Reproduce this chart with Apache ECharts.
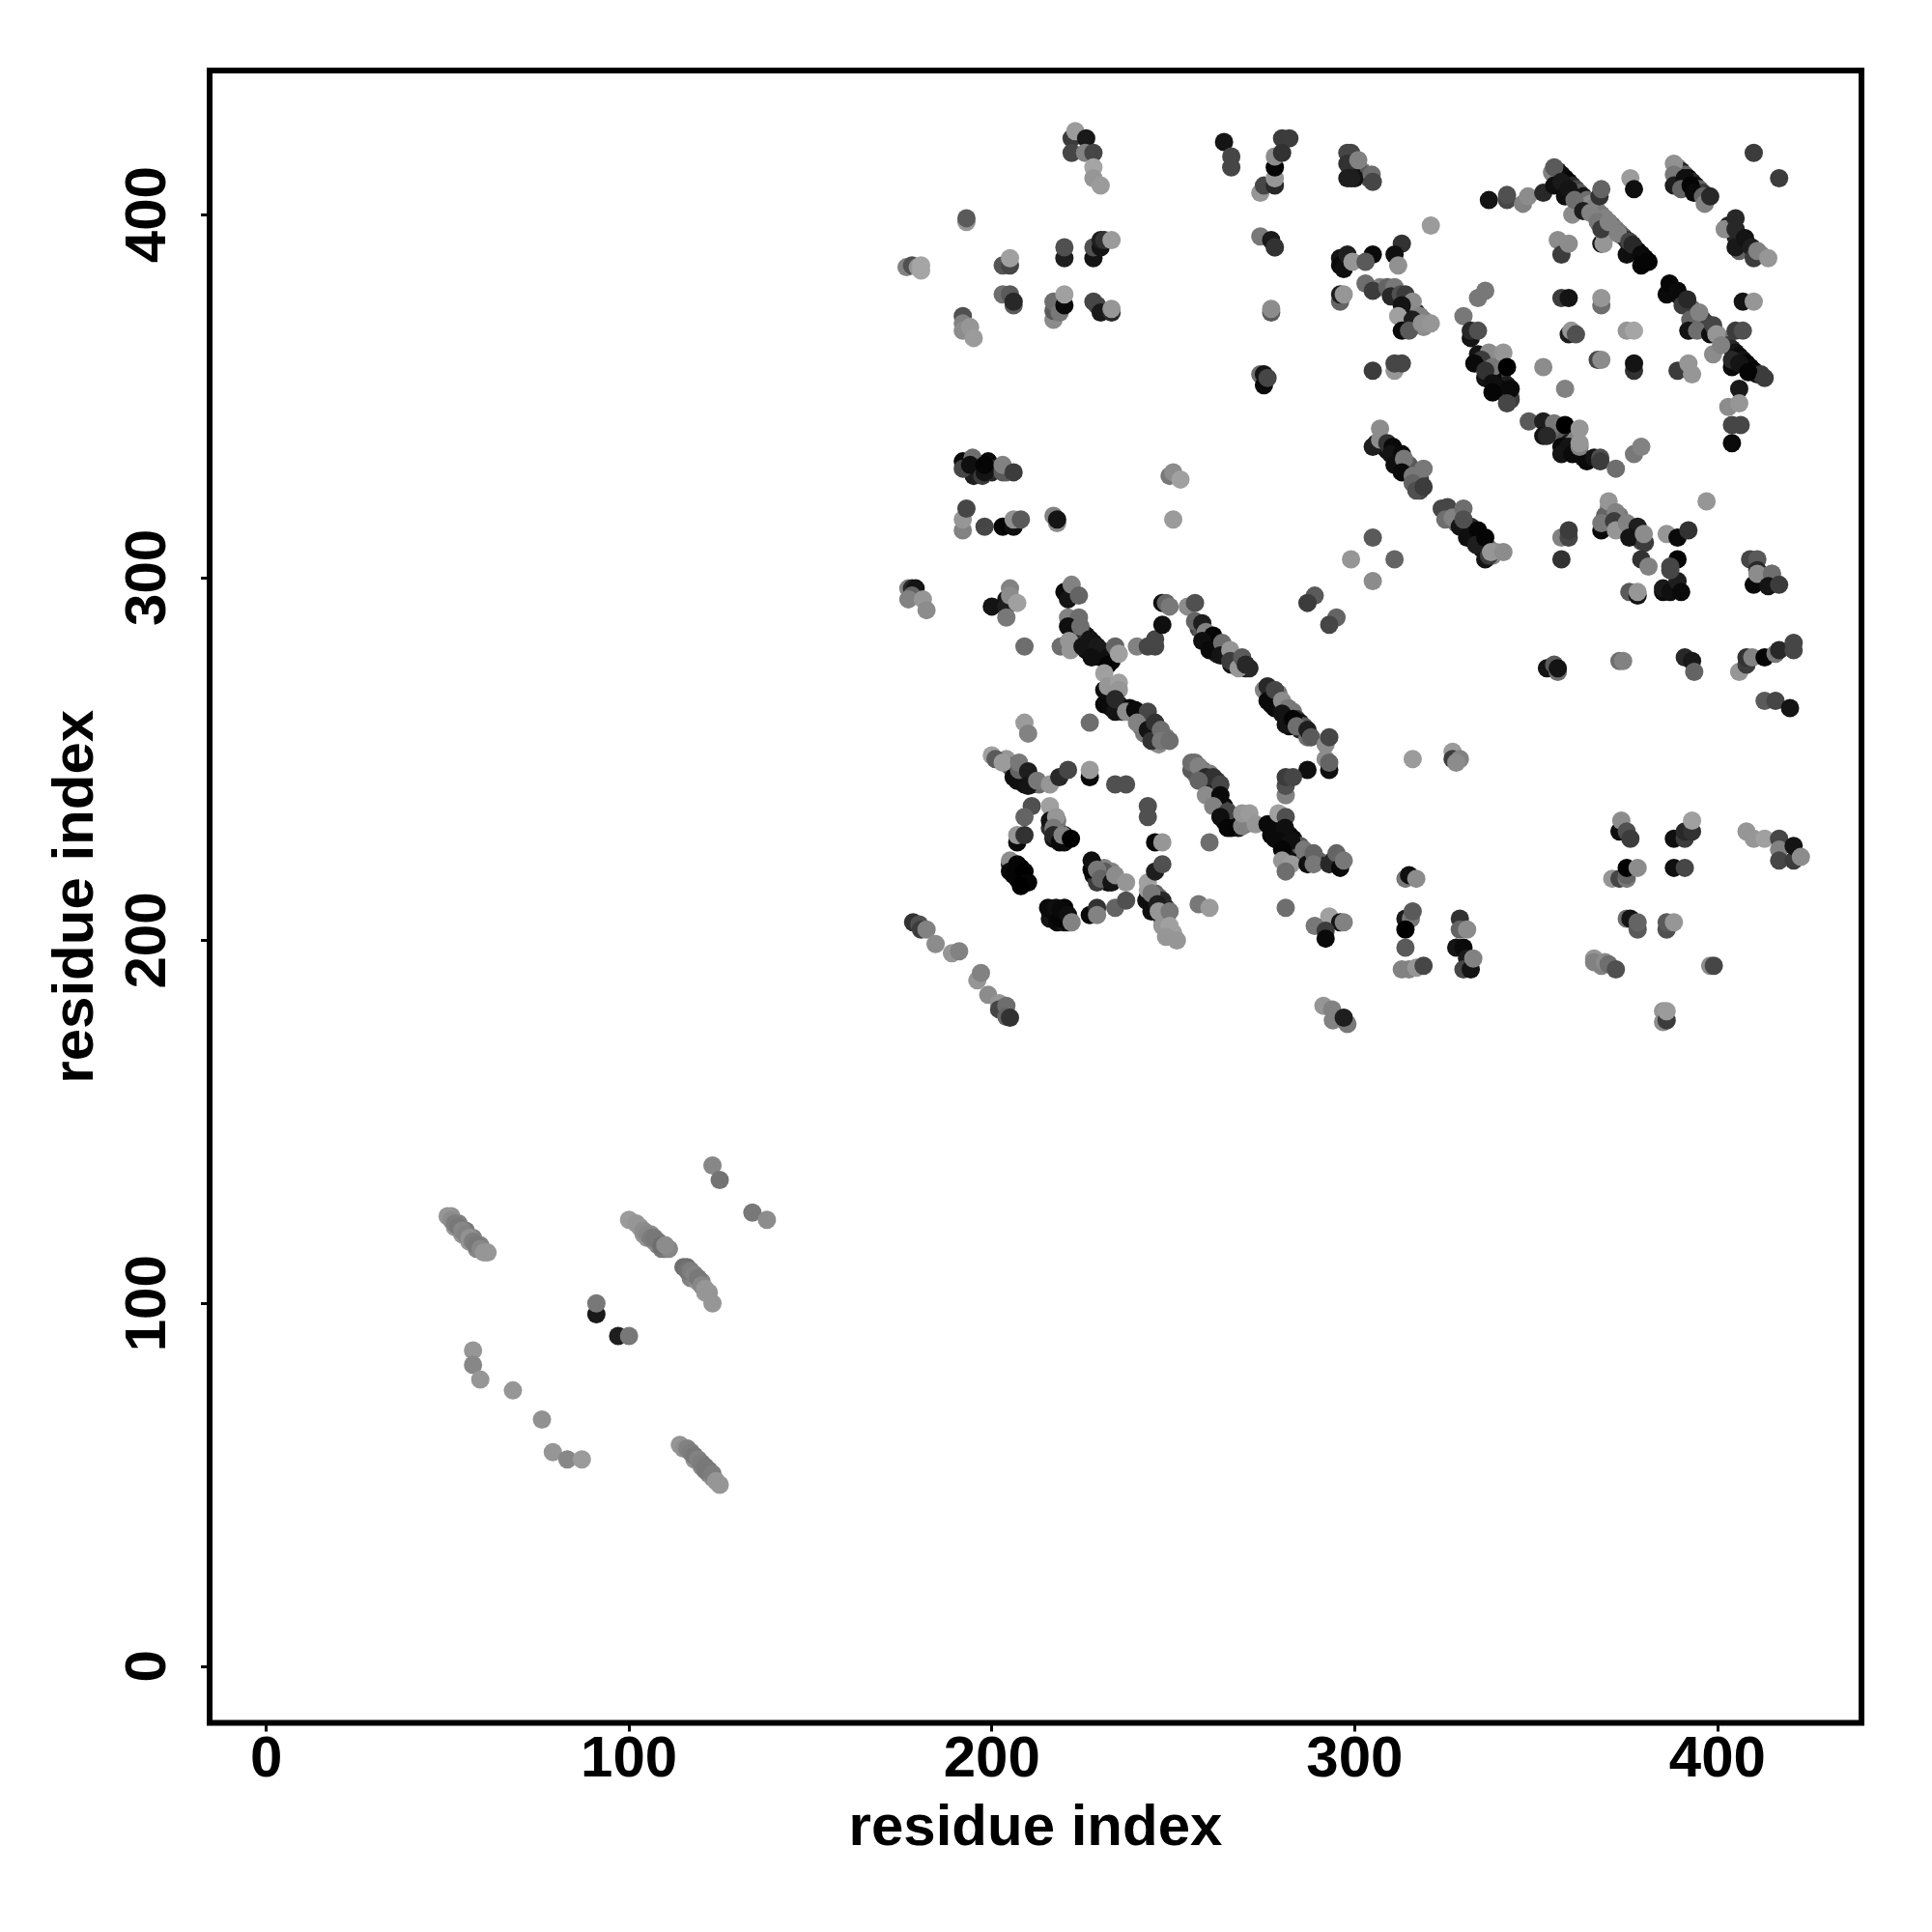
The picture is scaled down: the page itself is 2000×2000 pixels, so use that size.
<!DOCTYPE html>
<html><head><meta charset="utf-8">
<style>html,body{margin:0;padding:0;background:#fff}#c{width:2000px;height:2000px}</style>
<script src="https://cdn.jsdelivr.net/npm/echarts@6/dist/echarts.min.js"></script></head>
<body><div id="c"></div>
<script>
// [residue index x, residue index y, grey shade]
const tickValues=[0,100,200,300,400];
const lowBands=[[51,124,145],[53,122,130],[55,120,120],[57,118,130],[59,116,130],[52,121,150],[54,119,150],[56,117,150],[58,115,135],
[104,119,150],[106,119,145],[108,116,120],[110,115,110],[105,118,150],[107,117,140],[109,115,120],[111,115,135],
[116,110,110],[118,107,125],[120,106,135],[117,107,130],[119,106,145],[121,103,155],
[116,60,150],[118,57,150],[120,55,140],[122,53,130],[117,59,140],[119,57,130],[121,54,120],[123,52,140]];
const upperBands=[[356,412,30],[357,411,15],[358,410,10],[359,409,5],[360,408,40],[361,407,70],[362,406,90],[363,405,20],[364,404,110],[365,403,140],[366,402,130],[367,401,140],[368,400,120],[369,399,130],[370,398,140],[371,397,100],[372,396,130],[373,395,120],[374,394,90],[375,393,40],[376,392,30],[377,391,15],[378,390,10],[379,389,5],[380,388,5],[381,387,0],
[389,413,130],[390,412,30],[391,411,100],[392,410,5],[393,409,40],[394,408,15],[395,407,100],[396,406,60],[397,405,40],[390,410,5],
[387,380,10],[388,379,5],[389,378,10],[390,377,30],[391,376,50],[392,375,40],[393,374,110],[394,373,130],[395,372,120],[396,371,70],[397,370,60],[398,369,70],[399,368,130],[400,367,140],[401,366,150],[402,365,120],[403,364,60],[404,363,40],[405,362,20],[406,361,10],[407,360,20],[408,359,5],[409,358,10],[410,357,5],[411,356,20],[412,356,60],
[403,397,40],[404,397,30],[405,394,20],[406,393,30],[407,392,20],[408,391,40],[409,390,110],[410,389,120],[411,389,130],[412,389,140],[406,390,100],
[334,360,10],[335,359,20],[336,358,10],[337,359,130],[338,356,120],[339,356,110],[340,355,20],[341,354,60],[342,353,30],[336,355,20],[338,355,10],[343,350,140],[340,352,10],[341,351,30],[342,350,120],[343,349,60],[339,352,15],
[354,341,100],[356,340,120],[357,339,110],[358,338,90],[359,337,20],[360,337,100],[358,336,20],[359,335,10],[361,335,20],[361,338,130],[362,334,10],[363,333,30],[364,332,10],
[306,337,30],[308,336,10],[309,335,15],[310,335,100],[311,333,5],[312,333,10],[312,331,20],[314,331,10],[314,330,15],[315,329,20],[316,327,130],[317,328,90],[317,326,80],[318,326,100],[318,327,60],[318,324,70],
[326,318,80],[327,317,110],[328,315,110],[329,316,70],[330,315,30],[331,313,20],[332,312,10],[332,314,40],[333,312,5],[334,311,10],[335,310,5],[335,308,15],[336,309,40],[337,308,120],[338,306,130],[339,307,140],
[307,380,130],[313,377,20],[314,376,50],[315,375,110],[316,374,120],[317,373,40],[318,371,10],[317,370,100],[319,371,120],[319,369,140],[314,371,100],[313,372,10],
[299,415,40],[300,414,90],[300,412,40],[301,411,60],[301,413,150],[302,412,130],[303,411,90],[304,410,80],[299,412,20],[300,410,20],
[370,319,140],[371,318,60],[372,316,40],[373,317,120],[374,314,70],[376,313,130],[377,312,40],[378,311,20],[376,312,10],[379,310,70],[370,315,20],[369,317,100],
[193,330,20],[195,331,60],[196,329,15],[196,331,100],[197,331,15],[199,330,10],[199,332,10],[200,329,40],[201,330,50],[204,329,100],[195,328,30]];
const centerBands=[[224,287,60],[225,285,80],[226,284,20],[226,282,10],[227,281,10],[228,282,15],[228,280,5],[229,279,20],[230,280,30],[230,278,10],[231,279,30],[233,277,5],[233,279,100],[224,283,20],[225,284,50],[226,280,10],
[257,286,70],[258,285,90],[259,283,20],[260,283,10],[261,282,5],[261,280,15],[262,281,20],[262,279,40],[263,280,30],[264,281,130],[264,279,10],[266,278,100],[267,276,60],[266,276,20],[267,278,120],[268,277,60],[269,276,80],[270,275,30],[271,275,40],
[277,268,60],[277,265,20],[278,267,30],[278,264,10],[279,265,15],[279,268,120],[280,264,15],[281,263,10],[282,262,15],[282,259,10],[283,263,120],[284,261,60],[285,260,20],[285,258,40],[286,259,90],[287,256,110],
[232,265,15],[233,264,30],[235,265,30],[236,263,60],[238,264,10],[240,263,60],[241,262,70],[242,261,60],[241,259,120],[242,257,120],[244,258,70],[245,257,80],[247,256,130],[246,254,140],[244,257,100],[248,256,120],
[204,250,150],[205,248,80],[206,247,100],[206,245,15],[208,246,60],[208,245,40],[209,244,10],[209,243,15],[211,244,80],[211,243,30],[213,243,110],
[218,231,130],[219,228,5],[218,233,120],[220,229,10],[220,227,15],[217,232,90],[216,231,50],[217,228,20],
[206,220,10],[208,220,5],[207,218,5],[207,217,0],[209,217,5],[206,221,20],[208,218,0],[205,221,15],
[228,221,10],[228,218,20],[229,218,60],[231,220,130],[231,217,120],[232,218,150],[232,216,10],[233,219,130],[230,219,110],[231,219,90],[229,216,60],
[216,208,5],[216,206,20],[217,208,10],[218,208,15],[218,205,10],[220,207,5],[220,205,20],[220,209,5],[219,206,30],[221,205,10],
[256,246,120],[256,249,110],[258,247,100],[258,245,60],[260,244,60],[260,246,130],[262,244,60],[261,241,20],[262,240,20],[264,237,10],[264,236,60],[264,233,10],[266,234,80],[266,231,5],[267,232,10],[270,232,130],[268,231,20],
[277,232,15],[278,231,10],[278,228,10],[279,230,20],[280,229,15],[281,228,10],[282,229,20],[281,226,5],[283,226,15],[284,226,60],[283,228,10],[284,224,20],[285,223,10],[285,226,90],[286,222,100],[287,224,120],[290,222,100],[289,222,30],[294,222,60],[296,222,15],[295,221,20],
[243,212,30],[244,210,20],[245,208,20],[246,210,100],[247,208,15],[247,206,60],[246,212,120],[248,206,130],[247,204,150],[250,202,160],[248,209,50],[245,213,100],[247,211,40]];
const lowGroup=[[50,124,150],[51,123,140],[52,122,125],[53,121,120],[54,120,135],[55,119,130],[56,118,145],[57,117,125],[58,116,120],[59,115,135],[60,114,150],[61,114,150],
[100,123,155],[102,122,150],[103,121,150],[104,120,140],[105,119,135],[106,118,125],[107,118,120],[108,117,120],[109,116,110],[110,116,140],
[115,110,110],[116,109,115],[117,109,125],[118,108,130],[119,107,120],[120,105,135],[121,104,150],[122,103,150],[123,100,150],
[123,138,135],[125,134,115],[134,125,120],[138,123,140],[91,97,25],[91,100,120],[97,91,30],[100,91,120],
[57,87,150],[57,83,135],[59,79,150],[68,76,150],[76,68,145],[79,59,150],[83,57,135],[87,57,155],
[114,61,150],[115,60,145],[116,60,130],[117,59,125],[118,58,120],[119,57,130],[120,56,125],[121,55,120],[122,54,120],[123,53,125],[124,51,150],[125,50,150]];
const topLeft=[[222,421,60],[223,423,155],[226,421,25],[222,417,70],[225.7,417,130],[228,417,70],[228,413,165],[228,410,150],[230,408,155],
[193,398,150],[193,399,90],[176.5,385.5,130],[178,386,80],[179.6,385.5,150],[180.5,386,165],[180.5,384.6,165],
[203,386,85],[205,386,70],[205,388,160],[220,388,30],[220,391,80],[228,388,20],[228,391,80],[230,391,20],[230,393,30],[231,393,50],[233,393,155],
[203,378,110],[205,378,90],[206,375,90],[206,376,40],[217,371,140],[217,373.5,90],[217,376,110],[218.7,373,120],[220,375,10],[220,378,160],
[228,376,70],[229,375,70],[230,373,25],[233,373,40],[233,374,150],[192,372,80],[192,370,130],[192,368,140],[194,369,150],[195,366,155],
[264,420,20],[266,413,70],[266,416,70],[280,421,60],[282,421,60],[274,406,150],[275,408,70],[278,408,40],[278,410,150],[278,413,5],[278,416,140],[280,417,50],
[274,394,120],[278,391,140],[277,393,25],[278,391,50],[277,373,90],[277,374,140],[274,356,110],[275,353,10],[275,356,20],[276,355,70]];
const midLeft=[[192,332,10],[192,330,70],[194.7,333,110],[194,331,15],[197.4,328,60],[198,329,20],[198,331,5],[203,329,90],[203,331,130],[206,329,60],
[192,313,130],[192,316,150],[193,319,70],[198,314,70],[203,314,5],[206,314,15],[206,316,145],[208,316,90],[217,317,130],[218,315,140],[218,316,20],
[249,328,120],[250,329,140],[252,327,160],[250,316,155],
[177,297,130],[178,297,40],[179,297,20],[178,295,100],[177,294,130],[181,294,150],[182,291,140],
[200,292,20],[204,294,20],[204,292,30],[205,297,130],[205,295,140],[204,289,120],[207,293,160],[209,281,110]];
const topMiddle=[[298,417,70],[299,417,70],[298,414,50],[298,410,30],[299,410,30],[301,415,130],[304.7,411,110],[305,409,70],
[296,388,20],[296,386,10],[297,385,15],[298,389,30],[299.4,387,150],[296,376,100],[296,378,30],[297,378,150],[321,397,155],
[313,392,50],[311,389,15],[305,389,10],[303,387,90],[312,386,145],[303,381,110],[305,379,60],[309,380,100],[311,380,120],[310,377.5,40],[312.7,378,80],[314,378,60],[316,376,140],
[313,375,20],[312,372,160],[318,372,130],[316,371,30],[313,368,10],[315,368,90],[318.5,370,145],[321,370,150],[305,357,60],[311,357,150],[311,359,70],[313,359,70],
[307,341,140],[305,336,30],[307,338,140],[309,337,50],[310.5,336,10],[310,334,20],[313,334,10],[311,331,15],[315,331,90],[313.6,332.7,120],[313,329,10],[316,328,120],[316,326,100],[319,330,120],[317,324,80],[319,325,60],
[324,319,70],[325.6,319.4,70],[325,316,110],[327,316.5,130],[329,314,20],[330,319,110],[330,316,80],[331,311,15],[334,313,5],[333.5,309,30],[336,311,5],[336,305,20],[337,306,60],[337.6,307,150],[341,307,140],
[305,311,90],[311,305,100],[299,305,150],[305,299,140]];
const ringUpper=[[337,404,20],[342,404,70],[342,405.4,80],[346.4,403,130],[347.8,405,140],[352,406,40],[354.4,411.6,130],[355,413,90],[355,408,15],[357,409,25],[358,405,15],[359,407,20],[360,400,140],[360.6,404,110],[363,401,30],
[367.5,405,50],[368,407,100],[365,400.5,130],[368,392,20],[368.6,392,150],[369,394,150],[367,398,120],[368,396,60],[370,398,130],[372.6,394.8,130],[375,389,15],[375.7,392.6,70],[376.6,391.7,40],[379,389,10],[379,386,5],[380.6,387,5],
[376,410,155],[377,407,15],[356,393,140],[357,389,60],[359,392,140],
[388,414,145],[388,411,120],[388,408,30],[391,410,15],[390,407,100],[392.6,408,5],[393.5,406,10],[396,405,100],[396.5,403,130],[398,405,40],[410,417,60],[417,410,60],
[402,396,140],[405,399,40],[405,396,40],[405.4,392.6,40],[405,391,25],[407.6,393.5,20],[409.4,391,30],[410,388,60],[411,390,130],[414,388,150],
[386,378,10],[386.8,381,5],[389,379,10],[390.4,375,60],[391.7,376.6,40],[392.5,371,100],[392,368,150],[392,368,20],[395,373,130],[394.4,368,110],[398,367,15],[398.8,369.5,70],[399.7,367,150],[398.8,361.5,140],[401,364,130],
[404,358,10],[404,360,40],[406,359,20],[408.5,356.6,5],[413,355,60],[406,352,25],[407,376,20],[410,376,150],[405,368,60],[407,368,80],[403,347,140],[406,348,150],[404,342,70],[406.4,342,70],[404,337,10]];
const ringInner=[[336,379,120],[334,377,120],[330,372,120],[332,366,20],[332,368,40],[334,368,80],[334,361.5,20],[337,362,140],[341,362,150],[335,360,60],[333,359,10],[338,358,120],[336,357,50],[342,358,0],[338,353.5,15],[343,352,10],[338,351,5],[342,348,70],
[352,358,140],[358,352,130],[357,377,60],[359,377,20],[368,375,110],[368,377,150],[359,367,30],[359.7,368,150],[361,367,80],[375,368,150],[377,368,165],[367,360,70],[368,360,140],[377,357,50],[377,359,20],[389,357,60],[392,359,150],[393,356,150],
[348,343,90],[352,343,30],[355,342.5,120],[358,342,0],[362,341,150],[352,339,20],[353,339,40],[357,336,10],[359,336,20],[357,334,20],[360,334,10],[362,336,130],[362,337,150],[366,333,20],[367.7,333,80],[367.7,332,60],[372,330,110],[377,334,120],[379,336,130],[397,321,150]];
const rightMid=[[368,313,10],[368,315,120],[370,321,150],[372,318,130],[371.5,315.5,60],[372,313,150],[375,315,130],[378,314,30],[375.7,311,20],[380,309.6,60],[379.7,312,140],[379,305,50],[381,303,130],
[357,311,130],[359,311,70],[359,313,60],[357,305,50],[386,312,150],[389,311,10],[392,313,50],[389,305,5],[387,303,70],[409,305,70],[411,305,90],[411,302,40],[415,301,110],
[375.7,296,90],[378,295,20],[378,296,150],[385,296,10],[385,297,25],[387,296,15],[389,299,30],[390,296,10],[387,302,70],[410,298,10],[411,301,140],[415,301,110],[414,297.6,20],[417,298,60],
[353,275,20],[355,276,90],[356,274,110],[356,275,20],[373,277,110],[374,277,130],[391,278,40],[393,277,25],[393.6,274,100],
[406,274,150],[408,276,60],[408,278,50],[409.6,278,130],[413,278,5],[416,279,120],[417,280,40],[421,282,70],[421,280,70],[413,266,90],[416,266,70],[420,264,20],
[316,250,155],[327,252,155],[327,250,60],[329,250,130],[328,249,140]];
const rightLow=[[373,230,15],[373.5,233,140],[375,230,80],[376,228,60],[388,228,15],[391,228,60],[391,230,40],[393,230,50],[393,233,160],
[408,230,150],[410,228,150],[413,228,160],[417,228,70],[417,225,130],[417,222,70],[421,222,60],[421,226,20],[423,223,140],
[371,217,150],[373,217,70],[375,217,120],[375,218,100],[375,220,0],[378,220,140],[388,220,15],[391,220,70],
[375,206,110],[376,206,20],[378,203,90],[378,205,100],[386,203,80],[386,205,90],[388,205,150],
[366,195,150],[366,194,130],[368,193,130],[369,194,140],[370,193.4,110],[372,192,80],[398,193,140],[399,193,70],
[385,180.5,150],[385,177.5,140],[386,178,60],[386,180.5,155],
[314,217,120],[315,218,15],[317,217,140],[314,206,25],[315.5,206,120],[316,208,90],[314,203,0],[314,198,90],[313,192,130],[315,192,130],[317,192.5,150],[319,193,70],
[329,206,50],[329,203,100],[331,203,140],[328,198,20],[330,198,10],[331,195,25],[330,192,70],[332,192,20],[332.7,195,130]];
const centerRidgeA=[[220,296,10],[221,294,20],[222,298,130],[224,295,100],[221,289,130],[224,289,110],[221,286.5,15],[224.4,286.5,110],[227,283,20],[219,281,110],[221.3,282.5,150],[221.7,280,150],[225,281,20],[229,281,25],[227.5,278,15],[232,278,15],[232,276,5],[234,281,100],[235,279,160],
[240,281,130],[243,281,70],[245,281,70],[245,283,70],[247,287,15],[247,293,15],[248,293,100],[249,292,120],[254,292,140],[256,293,80],
[256,288,100],[258,287.4,30],[259,285,130],[261,284,5],[258,282.5,15],[260,280,10],[263.5,282,110],[263,278.5,20],[265.7,280,150],[265.7,277,60],[268,275,150],[269,278,90],[270,276,40],
[275,269,130],[276,270,40],[276,266,10],[278,269,70],[280,266,140],[281.7,264,120],[280,262.5,20],[281,259.5,20],[283,261,5],[284,259,110],[287,258,30],[288,256,90],[292,254,140],[293,256,70],
[287,247,15],[292,250,140],[293,247,15],[293,249,100],[281,240,130],[281,242.6,80],[281,245,60],[283,245,70],
[231,265,10],[231,269,15],[231,273.6,160],[232,270,150],[235,271,160],[235,269,150],[234,263,20],[234,266.5,40],[237,263,140],[239.5,263.5,10],[243,263,70],[240,260,130],[243,258,20],[245,260,50],[244,255,50],[246.6,258,110],[246.6,255,120],[249,255,110],
[227,260,110],[209,260,155],[210,257,130],[289,295,90],[287,293,60],[295,289,100],[293,287,70]];
const ringLeft=[[200,251,160],[201,250,90],[203,249,155],[207,244,15],[207.5,247,100],[207.5,249,120],[210,246.6,30],[210,242.6,20],[212.5,244,120],[216,243,150],[218.6,245,40],[221,247,70],[227,245,10],[227,247,155],[234,243,80],[237,243,80],
[243,237,80],[243,234,80],[211,237,80],[209,234,100],[207,227,10],[207,229,150],[209,229,50],
[216,237,160],[216,233,20],[217.7,234,150],[217,231,120],[217,229,40],[218.7,227,10],[219.5,229,130],[221.8,228,0],[245,227,10],[247,227,150],[243,216,160],[245,219,30],[247,221,80],
[205,222,140],[205,219,10],[206,218,5],[207,221,5],[208,216,5],[209,219,0],[210,216,5],[208,215,0],
[227.5,219.5,5],[227.5,222,15],[229,219.5,120],[230,217,100],[233,216,20],[234,218,140],[237,216,150],
[215.5,209,10],[217.7,209,15],[218.7,206,5],[219,208.4,10],[221,207,15],[222,205,130],[227,207,10],[229,209,50],[229,207,130],[234,209,100],[237,211,80],
[242.6,211,15],[243,214,160],[244,208,15],[244,213,120],[245.7,210,30],[246,208,150],[249,208,120],[249,204,160],[248,201,150],[251,200,150],[257,210,120],[260,209,155],[281,209,110],[260,227,110]];
const ridgeB=[[255,247,90],[255,249,110],[257,248,130],[259,245,40],[261,245,50],[257,244,100],[263,243,70],[259,240,140],[263,240,10],[261,237,130],[265,235.5,70],[263,234,15],[265,231,5],[269,231.5,130],[269,235,150],[271,235,155],[272.7,232,150],
[276,232,10],[277,229,10],[279,235,160],[281,234,80],[280.8,231,15],[279,227.5,10],[282.5,227.5,15],[280,225,5],[280,222,150],[282.5,221,155],[281,219,110],[286,225,120],[287,221,15],[288.7,224,100],[288.7,221,120],
[293,221,40],[295,224,100],[296,220,10],[297,222,120]];
const lowerDiag=[[178.3,205,50],[180,204.4,80],[180.5,203,60],[182,203,130],[184.5,199,140],[189,196.5,150],[191,197,130],[196,189,150],[197,191,130],[199,185,140],[202,182.7,150],[202,181,70],[204,182,110],[204,179,100],[205,178.7,50],
[291.4,182,150],[293.8,181,130],[294,178,130],[298,177,120],[297,178.7,30],[293,206.6,160],[296,205,20],[297,205,130],[289,204,120],[292,202.7,60],[292,200.5,10]];
const contacts=[].concat(lowBands,upperBands,centerBands,lowGroup,topLeft,midLeft,topMiddle,ringUpper,ringInner,rightMid,rightLow,centerRidgeA,ringLeft,ridgeB,lowerDiag);
const labelFont='"Liberation Sans", Arial, sans-serif';
const axisBase={type:'value',min:-15.6,max:439.7,nameLocation:'middle',name:'residue index',
 nameTextStyle:{fontFamily:labelFont,fontWeight:'bold',fontSize:60,color:'#000'},
 splitLine:{show:false},axisLine:{show:false,onZero:false},
 axisTick:{show:true,length:9,inside:false,lineStyle:{color:'#000',width:3},customValues:tickValues},
};
const chart=echarts.init(document.getElementById('c'),null,{renderer:'canvas'});
chart.setOption({animation:false,backgroundColor:'#fff',
 grid:{show:true,left:217,right:73,top:73,bottom:216.5,borderColor:'#000',borderWidth:6,backgroundColor:'#fff'},
 xAxis:Object.assign({},axisBase,{nameGap:80,axisLabel:{customValues:tickValues,fontFamily:labelFont,fontWeight:'bold',fontSize:60,color:'#000',margin:9}}),
 yAxis:Object.assign({},axisBase,{nameGap:108,axisLabel:{customValues:tickValues,rotate:90,align:'center',verticalAlign:'bottom',fontFamily:labelFont,fontWeight:'bold',fontSize:60,color:'#000',margin:33}}),
 series:[{type:'scatter',data:contacts,symbol:'circle',symbolSize:19,clip:false,
  itemStyle:{opacity:1,color:p=>{const g=p.data[2];return 'rgb('+g+','+g+','+g+')';}},
  emphasis:{disabled:true}}]
});
</script></body></html>
